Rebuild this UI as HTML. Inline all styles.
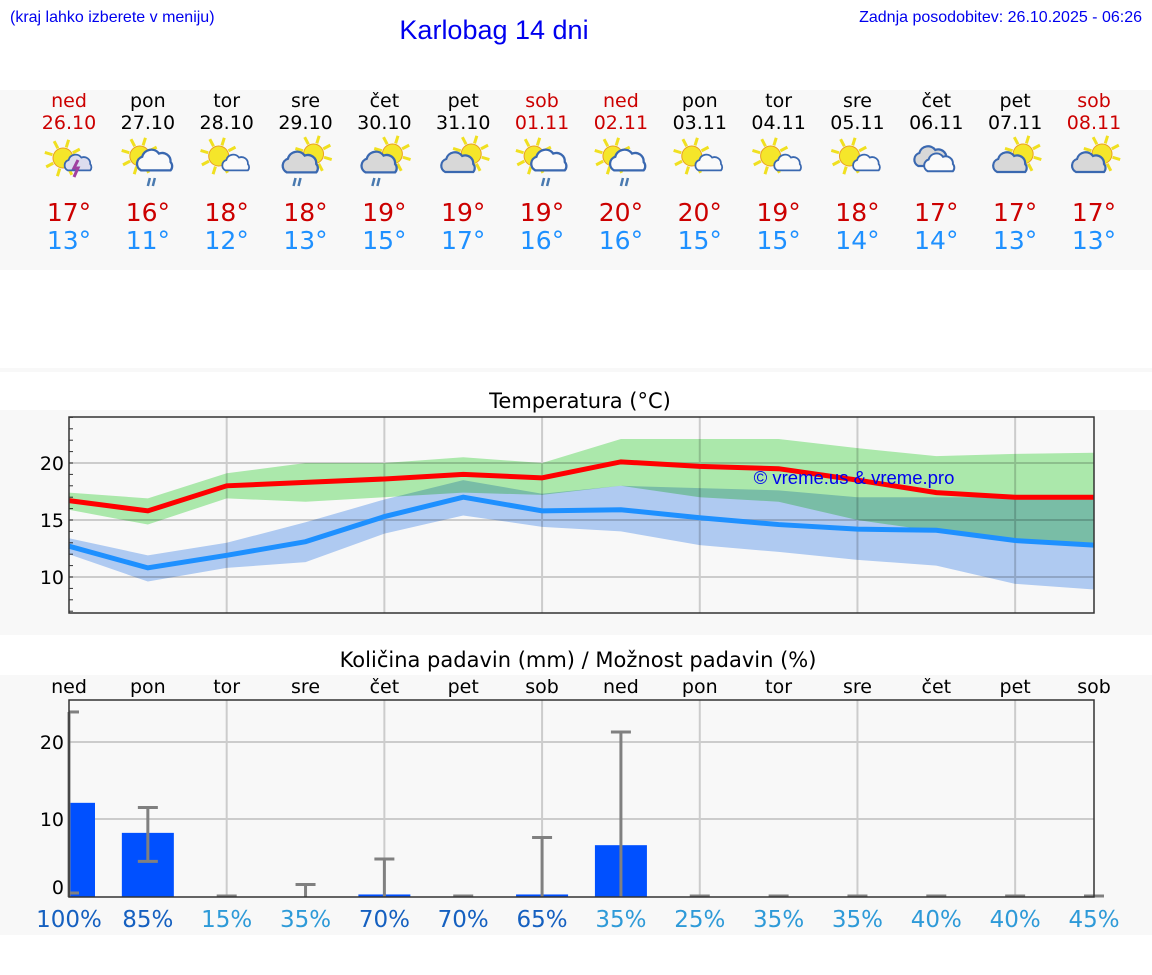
<!DOCTYPE html>
<html><head><meta charset="utf-8"><style>
body{margin:0;width:1152px;height:975px;background:#fff;overflow:hidden;font-family:"DejaVu Sans",sans-serif}
svg{display:block}
</style></head><body>
<svg id="s" width="1152" height="975" xmlns="http://www.w3.org/2000/svg">
<text x="10" y="22" font-family="Liberation Sans, sans-serif" font-size="16" fill="#0000ee">(kraj lahko izberete v meniju)</text>
<text x="494" y="39" text-anchor="middle" font-family="Liberation Sans, sans-serif" font-size="27" fill="#0000ee">Karlobag 14 dni</text>
<text x="1142" y="22" text-anchor="end" font-family="Liberation Sans, sans-serif" font-size="16" fill="#0000ee">Zadnja posodobitev: 26.10.2025 - 06:26</text>
<rect x="0" y="90" width="1152" height="180" fill="#f8f8f8"/>
<rect x="0" y="368" width="1152" height="4" fill="#f8f8f8"/>
<rect x="0" y="410" width="1152" height="225" fill="#f8f8f8"/>
<rect x="0" y="675" width="1152" height="260" fill="#f8f8f8"/>
<g id="hdr"></g>
<text x="580" y="408" text-anchor="middle" font-size="21">Temperatura (°C)</text>
<g id="temp"></g>
<text x="578" y="667" text-anchor="middle" font-size="21">Količina padavin (mm) / Možnost padavin (%)</text>
<g id="prec"></g>
</svg>
<script>
const days=["ned","pon","tor","sre","čet","pet","sob","ned","pon","tor","sre","čet","pet","sob"];
const dates=["26.10","27.10","28.10","29.10","30.10","31.10","01.11","02.11","03.11","04.11","05.11","06.11","07.11","08.11"];
const icons=["st","sr","sc","cr","cr","cs","sr","sr","sc","sc","sc","cc","cs","cs"];
const maxT=[17,16,18,18,19,19,19,20,20,19,18,17,17,17];
const minT=[13,11,12,13,15,17,16,16,15,15,14,14,13,13];
const maxLine=[16.7,15.8,18.0,18.3,18.6,19.0,18.7,20.1,19.7,19.5,18.5,17.4,17.0,17.0];
const maxHi=[17.4,16.9,19.1,20.0,20.0,20.5,20.0,22.1,22.1,22.1,21.3,20.6,20.8,20.9];
const maxLo=[15.9,14.6,16.9,16.6,17.0,17.4,17.2,18.0,17.0,16.6,15.0,14.0,13.3,13.0];
const minLine=[12.7,10.8,11.9,13.1,15.3,17.0,15.8,15.9,15.2,14.6,14.2,14.1,13.2,12.8];
const minHi=[13.4,11.9,13.0,14.8,16.8,18.5,17.3,18.0,17.8,17.6,17.0,17.0,17.0,17.0];
const minLo=[12.0,9.6,10.8,11.3,13.8,15.4,14.4,14.0,12.8,12.2,11.5,11.0,9.4,8.9];
const tempTicks=[10,15,20];
const precip=[12.1,8.2,0,0,0.2,0,0.2,6.6,0,0,0,0,0,0];
const errHi=[23.9,11.5,0,1.5,4.8,0,7.6,21.3,0,0,0,0,0,0];
const errLo=[0,4.5,0,0,0,0,0,0,0,0,0,0,0,0];
const chance=[100,85,15,35,70,70,65,35,25,35,35,40,40,45];
const precTicks=[0,10,20];
const NS="http://www.w3.org/2000/svg";
function mk(t,a,p){const e=document.createElementNS(NS,t);for(const k in a)e.setAttribute(k,a[k]);p.appendChild(e);return e;}
const X0=69,X1=1094,dx=(X1-X0)/13;
const xi=i=>X0+i*dx;
const ty=v=>520-(v-15)*11.4;
const py=v=>896-v*7.7;
const hdr=document.getElementById('hdr');
function sun(g,cx,cy){for(let k=0;k<8;k++){const a=k*Math.PI/4+0.3;mk('line',{x1:cx+Math.cos(a)*11,y1:cy+Math.sin(a)*11,x2:cx+Math.cos(a)*19,y2:cy+Math.sin(a)*19,stroke:'#f0e020','stroke-width':3},g);}mk('circle',{cx,cy,r:10,fill:'#f5e62a',stroke:'#e8a020','stroke-width':1},g);}
function cloud(g,cx,cy,s,fill){const p=mk('g',{transform:`translate(${cx},${cy}) scale(${s})`},g);mk('path',{d:'M-14,8 a7,7 0 0 1 1,-13 a9,9 0 0 1 16,-3 a8,8 0 0 1 11,8 a6,6 0 0 1 0,8 z',fill,stroke:'#3a68b0','stroke-width':2.2},p);}
days.forEach((d,i)=>{const x=xi(i),red=(d==="ned"||d==="sob");
 let t=mk('text',{x,y:107,'text-anchor':'middle','font-size':19,fill:red?'#cc0000':'#000'},hdr);t.textContent=d;
 
 t=mk('text',{x,y:129,'text-anchor':'middle','font-size':19,fill:red?'#cc0000':'#000'},hdr);t.textContent=dates[i];
 
 const g=mk('g',{},hdr);
 
 const c=icons[i],cy=158;
 if(c==="st"){sun(g,x-6,cy);cloud(g,x+10,cy+6,0.8,'#dde');mk('path',{d:`M${x+9},${cy+2} l-4,8 h4 l-4,9`,stroke:'#a040a0','stroke-width':3,fill:'none'},g);}
 else if(c==="sr"){sun(g,x-8,cy-2);cloud(g,x+8,cy+4,1.05,'#fafafa');mk('path',{d:`M${x+2},${cy+20} l-2,8 M${x+7},${cy+20} l-2,8`,stroke:'#4a7ab0','stroke-width':2.5},g);}
 else if(c==="sc"){sun(g,x-8,cy-2);cloud(g,x+10,cy+6,0.8,'#fafafa');}
 else if(c==="cr"){sun(g,x+8,cy-4);cloud(g,x-4,cy+6,1.05,'#d8d8d8');mk('path',{d:`M${x-10},${cy+20} l-2,8 M${x-5},${cy+20} l-2,8`,stroke:'#4a7ab0','stroke-width':2.5},g);}
 else if(c==="cs"){sun(g,x+8,cy-4);cloud(g,x-4,cy+6,1.0,'#d8d8d8');}
 else {cloud(g,x-4,cy,1.0,'#d8d8d8');cloud(g,x+4,cy+6,0.9,'#fafafa');}
 t=mk('text',{x,y:221,'text-anchor':'middle','font-size':25,fill:'#cc0000'},hdr);t.textContent=maxT[i]+"°";
 
 t=mk('text',{x,y:249,'text-anchor':'middle','font-size':25,fill:'#1e90ff'},hdr);t.textContent=minT[i]+"°";
 
});
// temperature chart
const tg=document.getElementById('temp');
const T0=417,T1=613;
tempTicks.forEach(v=>{const l=mk('line',{x1:X0,x2:X1,y1:ty(v),y2:ty(v),stroke:'#ccc','stroke-width':2},tg);
 const t=mk('text',{x:X0-5,y:ty(v)+7,'text-anchor':'end','font-size':19},tg);t.textContent=v;});
for(let v=7;v<=24;v++){mk('line',{x1:X0,x2:X0+4,y1:ty(v),y2:ty(v),stroke:'#333','stroke-width':1},tg);}
for(let i=2;i<14;i+=2){const l=mk('line',{x1:xi(i),x2:xi(i),y1:T0,y2:T1,stroke:'#ccc','stroke-width':2},tg);}
function band(hi,lo,fill,name){let d='M'+hi.map((v,i)=>xi(i)+','+ty(v)).join('L');d+='L'+lo.map((v,i)=>xi(i)+','+ty(v)).reverse().join('L')+'Z';const p=mk('path',{d,fill,style:'mix-blend-mode:multiply'},tg);}
band(minHi,minLo,'#b4d0f8','min-temp-range');
band(maxHi,maxLo,'#b0efb0','max-temp-range');
function line(a,c,name){const p=mk('polyline',{points:a.map((v,i)=>xi(i)+','+ty(v)).join(' '),fill:'none',stroke:c,'stroke-width':5},tg);}
line(maxLine,'#ff0000','max-temp-line');line(minLine,'#1e90ff','min-temp-line');
let w=mk('text',{x:854,y:484,'text-anchor':'middle','font-family':'Liberation Sans, sans-serif','font-size':18.5,fill:'#0000ee'},tg);w.textContent='© vreme.us & vreme.pro';

let fr=mk('rect',{x:X0,y:T0,width:X1-X0,height:T1-T0,fill:'none',stroke:'#333','stroke-width':1.5},tg);
// precip chart
const pg=document.getElementById('prec');const P0=700,P1=897;
precTicks.forEach(v=>{if(v>0){const l=mk('line',{x1:X0,x2:X1,y1:py(v),y2:py(v),stroke:'#ccc','stroke-width':2},pg);}
 const t=mk('text',{x:X0-5,y:py(v)+(v==0?-2:7),'text-anchor':'end','font-size':19},pg);t.textContent=v;});
for(let i=2;i<14;i+=2){const l=mk('line',{x1:xi(i),x2:xi(i),y1:P0,y2:P1,stroke:'#ccc','stroke-width':2},pg);}
days.forEach((d,i)=>{const x=xi(i);
 const t=mk('text',{x,y:693,'text-anchor':'middle','font-size':19},pg);t.textContent=d;
 if(precip[i]>0){const x0=Math.max(X0,x-26);const b=mk('rect',{x:x0,y:py(precip[i]),width:x+26-x0,height:P1-py(precip[i]),fill:'#0050ff'},pg);}
 const e=mk('g',{stroke:'#808080','stroke-width':3},pg);
 const xl=Math.max(X0,x-10);
 if(errHi[i]<=0){mk('line',{x1:xl,x2:x+10,y1:P1-1,y2:P1-1},e);}
 else{
  const hi=py(errHi[i]);const lo=errLo[i]>0?py(errLo[i]):P1;
  mk('line',{x1:x,x2:x,y1:hi,y2:lo},e);mk('line',{x1:xl,x2:x+10,y1:hi,y2:hi},e);
  if(errLo[i]>0)mk('line',{x1:xl,x2:x+10,y1:lo,y2:lo},e);
  else if(i===0)mk('line',{x1:xl,x2:x+10,y1:P1-4,y2:P1-4},e);
 }
 const c=mk('text',{x,y:927,'text-anchor':'middle','font-size':23,fill:chance[i]>=50?'#1560c0':'#2e9ad8'},pg);c.textContent=chance[i]+'%';
});
fr=mk('rect',{x:X0,y:P0,width:X1-X0,height:P1-P0,fill:'none',stroke:'#333','stroke-width':1.5},pg);
</script>
</body></html>
